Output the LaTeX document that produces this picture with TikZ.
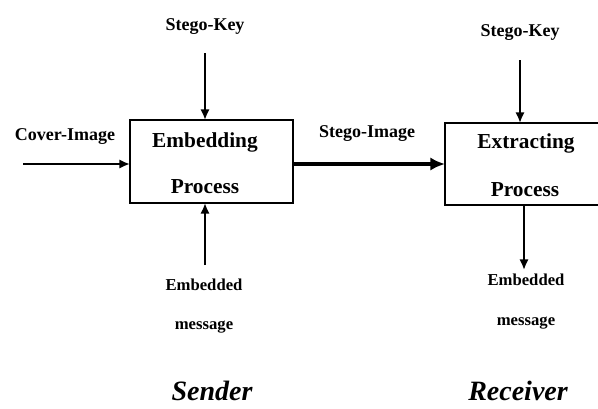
\documentclass[tikz,border=0pt]{standalone}
\usepackage{fontspec}
\setmainfont{Liberation Serif}
\usetikzlibrary{arrows.meta}
\begin{document}
\begin{tikzpicture}[x=0.75pt,y=-0.75pt,
  procbox/.style={draw,line width=2.2pt},
  lbl/.style={font=\bfseries\fontsize{13.5}{15}\selectfont,inner sep=0pt},
  boxtxt/.style={font=\bfseries\fontsize{16}{18}\selectfont,inner sep=0pt},
  small/.style={font=\bfseries\fontsize{12.5}{14}\selectfont,inner sep=0pt},
  role/.style={font=\bfseries\itshape\fontsize{21}{24}\selectfont,inner sep=0pt,anchor=base},
  flow/.style={line width=2pt,-{Latex[length=8pt,width=7pt]}},
  mainflow/.style={line width=3.6pt,-{Latex[length=11pt,width=10pt]}}]
\useasboundingbox (0,0) rectangle (598,408);
\clip (0,0) rectangle (598,408);
% sender side
\draw[procbox] (130,120) rectangle (293,203);
\coordinate (embL) at (130,164);
\coordinate (embR) at (293,164);
\coordinate (embT) at (205,120);
\coordinate (embB) at (205,203);
\node[boxtxt] (embA) at (205,142) {Embedding};
\node[boxtxt] (embP) at (205,187) {Process};
\node[lbl] (skeyA) at (205,27) {Stego-Key};
\coordinate (skeyAend) at (205,53);
\node[lbl] (cover) at (65,137) {Cover-Image};
\coordinate (coverend) at (23,164);
\node[small] (emsgA) at (204,285) {Embedded};
\node[small] (emsgA2) at (204,327) {message};
\coordinate (emsgAend) at (205,265);
\node[role] (sender) at (212,400) {Sender};
% receiver side
\draw[procbox] (445,123) rectangle (620,205);
\coordinate (extL) at (445,164);
\coordinate (extT) at (520,123);
\coordinate (extB) at (524,205);
\node[boxtxt] (extA) at (526,143) {Extracting};
\node[boxtxt] (extP) at (525,190) {Process};
\node[lbl] (skeyB) at (520,33) {Stego-Key};
\coordinate (skeyBend) at (520,60);
\node[lbl] (stimg) at (367,134) {Stego-Image};
\node[small] (emsgB) at (526,280) {Embedded};
\node[small] (emsgB2) at (526,323) {message};
\coordinate (emsgBend) at (524,270);
\node[role] (receiver) at (518,400) {Receiver};
% connectors
\draw[flow] (skeyAend) -- (embT);
\draw[flow] (coverend) -- (embL);
\draw[flow] (emsgAend) -- (embB);
\draw[mainflow] (embR) -- (extL);
\draw[flow] (skeyBend) -- (extT);
\draw[flow] (extB) -- (emsgBend);
\end{tikzpicture}
\end{document}
